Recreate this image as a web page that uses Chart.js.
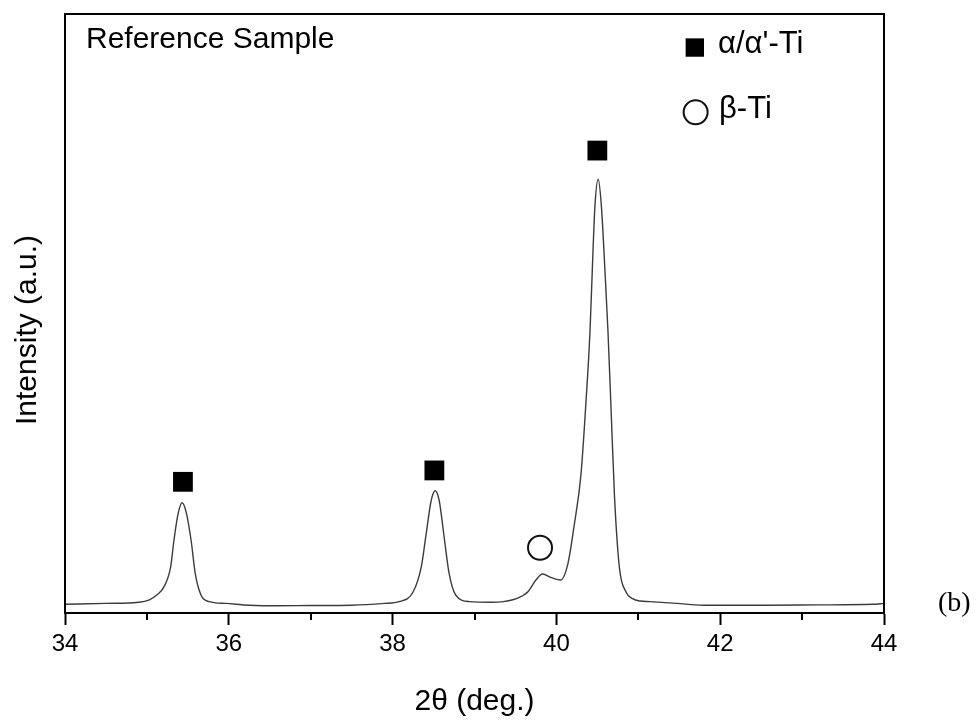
<!DOCTYPE html>
<html>
<head>
<meta charset="utf-8">
<script src="https://cdn.jsdelivr.net/npm/chart.js@4/dist/chart.umd.min.js"></script>
<style>
  body { margin: 0; background: #fff; }
  #wrap { position: relative; width: 978px; height: 722px; }
  .lbl { position: absolute; font-family: "Liberation Sans", Arial, sans-serif; color: #000; white-space: nowrap; line-height: 1; }
  #ytitle { left: 26px; top: 330px; font-size: 30px; transform: translate(-50%, -50%) rotate(-90deg); }
</style>
</head>
<body>
<div id="wrap">
  <canvas id="xrd" width="978" height="722"></canvas>
  <div class="lbl" style="left:86px; top:23px; font-size:30px;">Reference Sample</div>
  <div class="lbl" style="left:718px; top:27px; font-size:31px;">α/α'-Ti</div>
  <div class="lbl" style="left:719px; top:92px; font-size:31px;">β-Ti</div>
  <div class="lbl" id="ytitle">Intensity (a.u.)</div>
  <div class="lbl" style="left:938px; top:588px; font-size:28px; font-family:'Liberation Serif', 'Times New Roman', serif;">(b)</div>
</div>
<script>
// XRD pattern, 2theta in degrees, intensity in arbitrary units
const twoTheta = [34.00, 34.50, 34.90, 35.03, 35.12, 35.21, 35.29, 35.33, 35.38, 35.43, 35.48, 35.54, 35.59, 35.66, 35.76, 35.96,
  36.25, 36.60, 37.00, 37.50, 37.90, 38.08, 38.25, 38.35, 38.41, 38.47, 38.52, 38.57, 38.63, 38.69, 38.77, 38.94,
  39.20, 39.35, 39.51, 39.65, 39.75, 39.83, 39.94, 40.05, 40.14, 40.22, 40.30, 40.36, 40.41, 40.44, 40.47, 40.51,
  40.55, 40.59, 40.63, 40.67, 40.71, 40.77, 40.85, 40.93, 41.02, 41.14, 41.47, 41.79, 42.57, 43.20, 43.87, 44.00]
const intensity = [1.45, 1.6, 1.8, 2.2, 3.0, 4.4, 7.7, 12.1, 16.5, 18.4, 16.8, 12.1, 6.6, 3.0, 1.9, 1.6,
  1.3, 1.2, 1.25, 1.3, 1.6, 1.9, 3.5, 7.7, 13.2, 18.7, 20.4, 18.7, 12.6, 6.6, 3.0, 1.9,
  1.8, 1.9, 2.4, 3.5, 5.5, 6.5, 5.9, 5.5, 8.2, 14.9, 23.1, 35.0, 46.9, 57.9, 67.8, 72.4,
  67.8, 57.9, 46.9, 33.1, 19.3, 7.5, 3.5, 2.4, 2.0, 1.9, 1.6, 1.3, 1.3, 1.35, 1.45, 1.6]

// phase markers above peaks
const alphaPos = [35.44, 38.51, 40.50]
const alphaMark = [21.9, 23.8, 77.2]
const betaPos = [39.80]
const betaMark = [10.9]

// legend symbols (same scale as data)
const legendAlpha = [{ x: 41.69, y: 94.4 }]
const legendBeta = [{ x: 41.70, y: 83.6 }]

const xTicks = [34, 36, 38, 40, 42, 44]
const xMinor = [35, 37, 39, 41, 43]

const pattern = twoTheta.map((t, i) => ({ x: t, y: intensity[i] }))
const alphaPts = alphaPos.map((t, i) => ({ x: t, y: alphaMark[i] }))
const betaPts = betaPos.map((t, i) => ({ x: t, y: betaMark[i] }))

const frame = {
  id: 'frame',
  afterDraw(chart) {
    const { ctx, chartArea: a, scales } = chart
    ctx.save()
    ctx.strokeStyle = '#000'
    ctx.lineWidth = 2
    ctx.strokeRect(a.left, a.top, a.right - a.left, a.bottom - a.top)
    xMinor.forEach(v => {
      const px = Math.round(scales.x.getPixelForValue(v))
      ctx.beginPath()
      ctx.moveTo(px, a.bottom)
      ctx.lineTo(px, a.bottom + 7)
      ctx.stroke()
    })
    ctx.restore()
  }
}

new Chart(document.getElementById('xrd'), {
  type: 'scatter',
  data: {
    datasets: [
      {
        data: pattern,
        showLine: true,
        borderColor: '#3c3c3c',
        borderWidth: 1.4,
        pointRadius: 0,
        cubicInterpolationMode: 'monotone'
      },
      {
        data: alphaPts.concat(legendAlpha),
        pointStyle: 'rect',
        pointRadius: [14, 14, 14, 13],
        backgroundColor: '#000',
        borderColor: '#000',
        borderWidth: 0
      },
      {
        data: betaPts.concat(legendBeta),
        pointStyle: 'circle',
        pointRadius: 12,
        backgroundColor: 'rgba(255,255,255,0)',
        borderColor: '#111',
        borderWidth: 2
      }
    ]
  },
  options: {
    responsive: false,
    animation: false,
    events: [],
    layout: { padding: { top: 9, right: 94, left: 0, bottom: 0 } },
    plugins: { legend: { display: false }, tooltip: { enabled: false } },
    scales: {
      x: {
        type: 'linear',
        min: 34,
        max: 44,
        afterBuildTicks: s => { s.ticks = xTicks.map(v => ({ value: v })) },
        afterFit: s => { s.height = 109 },
        border: { color: '#000', width: 2 },
        grid: { drawOnChartArea: false, tickLength: 12, tickColor: '#000', tickWidth: 2 },
        ticks: { color: '#000', padding: 5, font: { family: 'Liberation Sans', size: 24 } },
        title: {
          display: true,
          text: '2θ (deg.)',
          color: '#000',
          padding: { top: 0, bottom: 2 },
          font: { family: 'Liberation Sans', size: 30 }
        }
      },
      y: {
        min: 0,
        max: 100,
        afterFit: s => { s.width = 65 },
        border: { color: '#000', width: 2 },
        grid: { display: false },
        ticks: { display: false }
      }
    }
  },
  plugins: [frame]
})
</script>
</body>
</html>
